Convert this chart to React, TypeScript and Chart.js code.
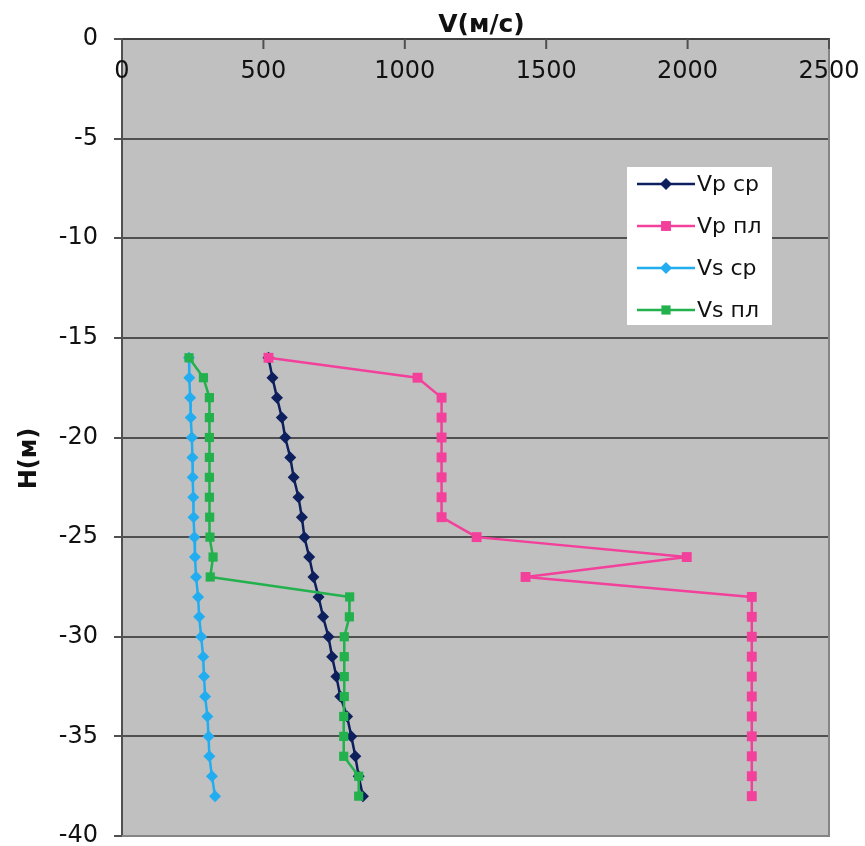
import React, { useEffect, useRef } from 'react';
import { Chart, registerables } from 'chart.js';

Chart.register(...registerables);

// Depth (m) of each measurement
const depths = [-16, -17, -18, -19, -20, -21, -22, -23, -24, -25, -26, -27, -28, -29, -30, -31, -32, -33, -34, -35, -36, -37, -38];

// Velocities (m/s)
const vpAvg = [518, 532, 548, 565, 577, 595, 607, 624, 636, 645, 662, 677, 695, 711, 730, 743, 758, 772, 796, 811, 825, 837, 852];
const vpLayer = [518, 1045, 1130, 1130, 1130, 1130, 1130, 1130, 1130, 1254, 1997, 1427, 2227, 2227, 2227, 2227, 2227, 2227, 2227, 2227, 2227, 2227, 2227];
const vsAvg = [237, 238, 241, 243, 247, 249, 250, 252, 253, 256, 258, 262, 269, 273, 280, 287, 290, 294, 302, 306, 309, 318, 329];
const vsLayer = [237, 288, 309, 309, 309, 309, 309, 309, 310, 311, 322, 312, 805, 804, 786, 786, 786, 786, 784, 784, 784, 837, 837];

const seriesNames = ['Vp ср', 'Vp пл', 'Vs ср', 'Vs пл'];
const seriesColors = ['#0d1f5c', '#f2409b', '#22adf0', '#22b14c'];
const seriesMarkers = ['rectRot', 'rect', 'rectRot', 'rect'];
const seriesMarkerRadius = [6, 7, 6, 6.5];

const xTicks = [0, 500, 1000, 1500, 2000, 2500];
const yTicks = [0, -5, -10, -15, -20, -25, -30, -35, -40];
const xAxisTitle = 'V(м/с)';
const yAxisTitle = 'H(м)';

const FONT = '"DejaVu Sans", "Liberation Sans", Arial, sans-serif';

function drawMarker(ctx: CanvasRenderingContext2D, kind: string, x: number, y: number, r: number) {
  ctx.beginPath();
  if (kind === 'rectRot') {
    ctx.moveTo(x, y - r);
    ctx.lineTo(x + r, y);
    ctx.lineTo(x, y + r);
    ctx.lineTo(x - r, y);
    ctx.closePath();
  } else {
    const s = r * Math.SQRT1_2;
    ctx.rect(x - s, y - s, 2 * s, 2 * s);
  }
  ctx.fill();
}

const decorPlugin = {
  id: 'decor',
  beforeDraw(chart: any) {
    const { ctx, chartArea: a } = chart;
    ctx.save();
    ctx.fillStyle = '#c0c0c0';
    ctx.fillRect(a.left, a.top, a.right - a.left, a.bottom - a.top);
    ctx.restore();
  },
  afterDraw(chart: any) {
    const { ctx, chartArea: a, scales } = chart;
    const xs = scales.x;
    ctx.save();
    // right & bottom frame
    ctx.strokeStyle = '#858585';
    ctx.lineWidth = 2;
    ctx.beginPath();
    ctx.moveTo(a.right, a.top);
    ctx.lineTo(a.right, a.bottom);
    ctx.lineTo(a.left, a.bottom);
    ctx.stroke();
    // x tick marks (inside)
    ctx.strokeStyle = '#505050';
    xTicks.forEach((v) => {
      const px = xs.getPixelForValue(v);
      ctx.beginPath();
      ctx.moveTo(px, a.top);
      ctx.lineTo(px, a.top + 10);
      ctx.stroke();
    });
    // x tick labels (inside, under top axis)
    ctx.fillStyle = '#111';
    ctx.font = '24px ' + FONT;
    ctx.textAlign = 'center';
    ctx.textBaseline = 'middle';
    xTicks.forEach((v) => {
      ctx.fillText(String(v), xs.getPixelForValue(v), a.top + 33);
    });
    // x axis title
    ctx.font = 'bold 25px ' + FONT;
    ctx.fillText(xAxisTitle, (a.left + a.right) / 2 + 6, 25);
    // y axis title
    ctx.save();
    ctx.translate(30, (a.top + a.bottom) / 2 + 21);
    ctx.rotate(-Math.PI / 2);
    ctx.font = 'bold 24px ' + FONT;
    ctx.fillText(yAxisTitle, 0, 0);
    ctx.restore();
    // legend
    const lx = 627, ly = 167, lw = 145, lh = 158;
    ctx.fillStyle = '#ffffff';
    ctx.fillRect(lx, ly, lw, lh);
    ctx.font = '22px ' + FONT;
    ctx.textAlign = 'left';
    seriesNames.forEach((name, i) => {
      const cy = ly + 17 + i * 42;
      ctx.strokeStyle = seriesColors[i];
      ctx.lineWidth = 2.5;
      ctx.beginPath();
      ctx.moveTo(lx + 10, cy);
      ctx.lineTo(lx + 68, cy);
      ctx.stroke();
      ctx.fillStyle = seriesColors[i];
      drawMarker(ctx, seriesMarkers[i], lx + 39, cy, seriesMarkerRadius[i]);
      ctx.fillStyle = '#111';
      ctx.fillText(name, lx + 70, cy + 1);
    });
    ctx.restore();
  },
};

export default function App() {
  const canvasRef = useRef<HTMLCanvasElement | null>(null);

  useEffect(() => {
    document.body.style.margin = '0';
    const canvas = canvasRef.current;
    if (!canvas) return;
    const seriesValues = [vpAvg, vpLayer, vsAvg, vsLayer];
    const datasets = seriesValues.map((vals, i) => ({
      label: seriesNames[i],
      data: vals.map((v, k) => ({ x: v, y: depths[k] })),
      showLine: true,
      borderColor: seriesColors[i],
      backgroundColor: seriesColors[i],
      borderWidth: 2.5,
      borderJoinStyle: 'round',
      borderCapStyle: 'round',
      pointStyle: seriesMarkers[i],
      pointRadius: seriesMarkerRadius[i],
      pointBorderWidth: 0,
      pointBackgroundColor: seriesColors[i],
      pointBorderColor: seriesColors[i],
      tension: 0,
      order: 4 - i,
    }));

    const chart = new Chart(canvas, {
      type: 'scatter',
      data: { datasets },
      options: {
        animation: false,
        responsive: false,
        devicePixelRatio: 1,
        layout: { padding: { left: 0, top: 0, right: 36, bottom: 10 } },
        plugins: {
          legend: { display: false },
          tooltip: { enabled: false },
        },
        scales: {
          x: {
            type: 'linear',
            position: 'top',
            min: xTicks[0],
            max: xTicks[xTicks.length - 1],
            ticks: { display: false, stepSize: 500 },
            grid: { display: false },
            border: { display: true, color: '#404040', width: 2 },
            afterFit: (s: any) => {
              s.height = 39;
              s.paddingLeft = 0;
              s.paddingRight = 0;
            },
          },
          y: {
            type: 'linear',
            min: yTicks[yTicks.length - 1],
            max: yTicks[0],
            ticks: {
              stepSize: 5,
              color: '#111',
              padding: 16,
              font: { family: FONT, size: 24 },
            },
            grid: { color: '#505050', lineWidth: 2, tickLength: 8, drawTicks: true },
            border: { display: true, color: '#505050', width: 2 },
            afterFit: (s: any) => {
              s.width = 122;
              s.paddingTop = 0;
              s.paddingBottom = 0;
            },
          },
        },
      },
      plugins: [decorPlugin],
    } as any);

    return () => chart.destroy();
  }, []);

  return (
    <div style={{ width: 865, height: 846, background: '#fff' }}>
      <canvas ref={canvasRef} width={865} height={846} style={{ display: 'block' }} />
    </div>
  );
}
